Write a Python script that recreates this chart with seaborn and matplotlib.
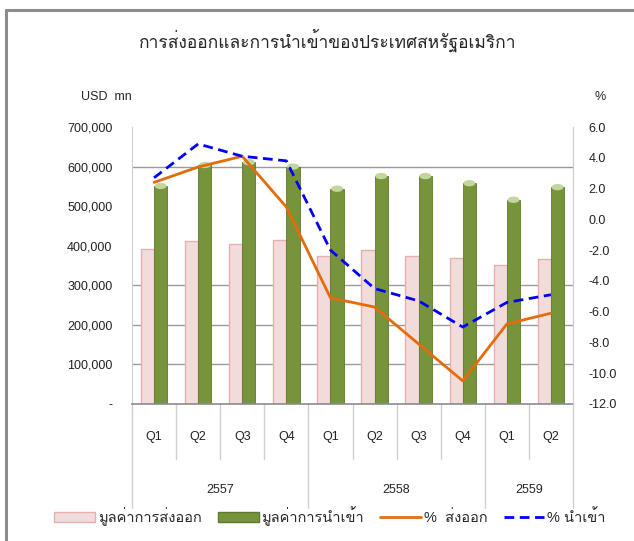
import numpy as np
import pandas as pd
import matplotlib
matplotlib.use("Agg")
import matplotlib.pyplot as plt
import seaborn as sns
from matplotlib import font_manager, ft2font
from matplotlib.lines import Line2D
from matplotlib.patches import Patch, Ellipse

# data
quarters = ["Q1", "Q2", "Q3", "Q4", "Q1", "Q2", "Q3", "Q4", "Q1", "Q2"]
years = ["2557", "2557", "2557", "2557", "2558", "2558", "2558", "2558", "2559", "2559"]
exports = [392000, 412000, 405000, 414000, 374000, 389000, 374000, 370000, 351000, 367000]
imports = [551000, 604000, 611000, 600000, 544000, 576000, 576000, 558000, 516000, 548000]
export_pct = [2.4, 3.4, 4.1, 0.8, -5.1, -5.7, -8.1, -10.5, -6.8, -6.1]
import_pct = [2.7, 4.9, 4.1, 3.8, -2.0, -4.5, -5.3, -7.0, -5.4, -4.9]

title = "การส่งออกและการนำเข้าของประเทศสหรัฐอเมริกา"
lbl_exp = "มูลค่าการส่งออก"
lbl_imp = "มูลค่าการนำเข้า"
lbl_exp_pct = "%  ส่งออก"
lbl_imp_pct = "% นำเข้า"


def thai_font():
    for f in font_manager.fontManager.ttflist:
        try:
            if 0x0E01 in ft2font.FT2Font(f.fname).get_charmap():
                return f.name
        except Exception:
            pass
    return "DejaVu Sans"


sns.set_style("white")
plt.rcParams["font.family"] = ["Liberation Sans", thai_font(), "DejaVu Sans"]
plt.rcParams["font.size"] = 9

keys = [y + " " + q for y, q in zip(years, quarters)]
df = pd.DataFrame({
    "key": keys * 2,
    "value": exports + imports,
    "series": [lbl_exp] * len(keys) + [lbl_imp] * len(keys),
})

fig = plt.figure(figsize=(6.34, 5.41), dpi=100)
ax = fig.add_axes([132 / 634, 137 / 541, 441 / 634, 277 / 541])

pink = "#F2DCDB"
green = "#77933C"
sns.barplot(data=df, x="key", y="value", hue="series", order=keys,
            palette=[pink, green], width=0.6, ax=ax, legend=False,
            saturation=1)
for bar in ax.patches[:len(keys)]:
    bar.set_edgecolor("#E6B0AF")
    bar.set_linewidth(1.0)
for bar in list(ax.patches[len(keys):2 * len(keys)]):
    bar.set_edgecolor("#5E7A2C")
    bar.set_linewidth(0.6)
    # light cap on top of each import bar
    ax.add_patch(Ellipse((bar.get_x() + bar.get_width() / 2, bar.get_height()),
                         bar.get_width() * 0.9, 16000, facecolor="#C3D69B",
                         edgecolor="none", zorder=3))

ax.set_xlim(-0.5, len(keys) - 0.5)
ax.set_ylim(0, 700000)
ax.set_yticks(range(0, 700001, 100000))
ax.set_yticklabels(["-" if v == 0 else f"{v:,}" for v in range(0, 700001, 100000)])
for v in [100000, 200000, 300000, 600000]:
    ax.axhline(v, color="#9A9A9A", lw=1.0, zorder=0.5)
ax.set_xticks([])
ax.set_xlabel("")
ax.set_ylabel("")
ax.tick_params(axis="y", length=0, pad=14, labelsize=9, labelcolor="#222222")

ax.spines["top"].set_visible(False)
ax.spines["bottom"].set_color("#8C8C8C")
ax.spines["bottom"].set_linewidth(1.2)
ax.spines["left"].set_color("#D0D0D0")
ax.spines["right"].set_color("#D0D0D0")

ax2 = ax.twinx()
idx = np.arange(len(keys))
sns.lineplot(x=idx, y=export_pct, ax=ax2, color="#E46C0A", lw=2.0)
sns.lineplot(x=idx, y=import_pct, ax=ax2, color="#0000FF", lw=2.0)
ax2.lines[1].set_dashes([3.5, 2])
ax2.set_ylim(-12, 6)
ax2.set_yticks(np.arange(-12, 6.1, 2))
ax2.set_yticklabels([f"{v:.1f}" for v in np.arange(-12, 6.1, 2)])
ax2.tick_params(axis="y", length=0, pad=11, labelsize=9, labelcolor="#222222")
for side in ["top", "left", "bottom"]:
    ax2.spines[side].set_visible(False)
ax2.spines["right"].set_color("#D0D0D0")

# category labels and separators below the axis
tr = ax.get_xaxis_transform()
for i, q in enumerate(quarters):
    ax.text(i, -0.119, q, transform=tr, ha="center", va="center", fontsize=9,
            color="#222222")
for i in range(1, len(keys)):
    if years[i] != years[i - 1]:
        continue
    ax.plot([i - 0.5, i - 0.5], [0, -0.199], transform=tr, color="#D0D0D0",
            lw=1.0, clip_on=False)
bounds = [0] + [i for i in range(1, len(keys)) if years[i] != years[i - 1]] + [len(keys)]
for b in bounds:
    ax.plot([b - 0.5, b - 0.5], [0, -0.375], transform=tr, color="#D0D0D0",
            lw=1.0, clip_on=False)
for a, b in zip(bounds[:-1], bounds[1:]):
    ax.text((a + b - 1) / 2, -0.31, years[a], transform=tr, ha="center",
            va="center", fontsize=9)

fig.text(328 / 634, 1 - 40 / 541, title, ha="center", va="center", fontsize=12.5)
fig.text(106 / 634, 1 - 97 / 541, "USD  mn", ha="center", va="center", fontsize=9)
fig.text(600 / 634, 1 - 97 / 541, "%", ha="center", va="center", fontsize=9)

handles = [
    Patch(facecolor=pink, edgecolor="#E6B0AF", label=lbl_exp),
    Patch(facecolor=green, edgecolor="#5E7A2C", label=lbl_imp),
    Line2D([], [], color="#E46C0A", lw=2.0, label=lbl_exp_pct),
    Line2D([], [], color="#0000FF", lw=2.0, dashes=[3.5, 2], label=lbl_imp_pct),
]
fig.legend(handles=handles, loc="center", bbox_to_anchor=(330 / 634, 1 - 516 / 541),
           ncol=4, frameon=False, fontsize=10.5, handlelength=2.8,
           handletextpad=0.2, columnspacing=1.1)

# chart frame
fig.add_artist(Line2D([6 / 634, 6 / 634], [0, 1 - 10 / 541], color="#8C8C8C", lw=2.2))
fig.add_artist(Line2D([6 / 634, 1], [1 - 10 / 541, 1 - 10 / 541], color="#8C8C8C", lw=2.2))

fig.savefig("out.png", dpi=100)
